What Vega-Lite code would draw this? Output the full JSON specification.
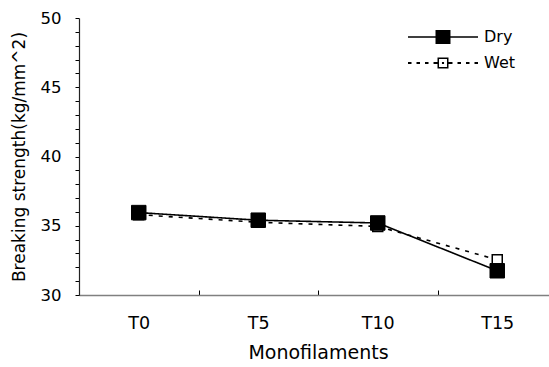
{
  "$schema": "https://vega.github.io/schema/vega-lite/v6.json",
  "width": 470,
  "height": 277,
  "autosize": {"type": "none"},
  "padding": {"left": 79, "top": 18, "right": 0, "bottom": 72},
  "background": "white",
  "config": {"view": {"stroke": null}, "font": "DejaVu Sans"},
  "data": {
    "values": [
      {"treatment": "T0", "series": "Dry", "strength": 35.95},
      {"treatment": "T5", "series": "Dry", "strength": 35.4},
      {"treatment": "T10", "series": "Dry", "strength": 35.2},
      {"treatment": "T15", "series": "Dry", "strength": 31.75},
      {"treatment": "T0", "series": "Wet", "strength": 35.8},
      {"treatment": "T5", "series": "Wet", "strength": 35.25},
      {"treatment": "T10", "series": "Wet", "strength": 34.95},
      {"treatment": "T15", "series": "Wet", "strength": 32.55}
    ]
  },
  "encoding": {
    "x": {
      "field": "treatment",
      "type": "nominal",
      "sort": ["T0", "T5", "T10", "T15"],
      "scale": {"type": "band", "range": [0, 478], "paddingInner": 0, "paddingOuter": 0},
      "title": "Monofilaments",
      "axis": {
        "tickBand": "extent",
        "tickSize": -5,
        "tickColor": "black",
        "tickWidth": 1,
        "domainColor": "#808080",
        "domainWidth": 1.5,
        "labelFontSize": 17.5,
        "labelFont": "DejaVu Sans",
        "labelColor": "black",
        "labelAngle": 0,
        "labelPadding": 24,
        "titleFontSize": 19,
        "titleFont": "DejaVu Sans",
        "titleFontWeight": "normal",
        "titleColor": "black",
        "titlePadding": 12,
        "grid": false
      }
    },
    "y": {
      "field": "strength",
      "type": "quantitative",
      "scale": {"domain": [30, 50], "nice": false, "zero": false},
      "title": "Breaking strength(kg/mm^2)",
      "axis": {
        "values": [30,31,32,33,34,35,36,37,38,39,40,41,42,43,44,45,46,47,48,49,50],
        "labelExpr": "datum.value % 5 === 0 ? datum.label : ''",
        "labelOverlap": false,
        "tickSize": 4,
        "tickColor": "black",
        "tickWidth": 1,
        "domainColor": "#222222",
        "domainWidth": 1.2,
        "labelFontSize": 16.5,
        "labelFont": "DejaVu Sans",
        "labelColor": "black",
        "labelPadding": 14,
        "titleFontSize": 17,
        "titleFont": "DejaVu Sans",
        "titleFontWeight": "normal",
        "titleColor": "black",
        "titlePadding": 12,
        "grid": false
      }
    }
  },
  "layer": [
    {
      "mark": {"type": "point", "filled": true, "fill": "black", "strokeWidth": 0, "size": 4900, "opacity": 0},
      "encoding": {
        "shape": {
          "field": "series",
          "type": "nominal",
          "scale": {
            "domain": ["Dry", "Wet"],
            "range": [
              "M-1,-0.023H1V0.023H-1ZM-0.214,-0.2H0.214V0.2H-0.214Z",
              "M-1,-0.028H-0.9V0.028H-1ZM-0.757,-0.028H-0.657V0.028H-0.757ZM-0.514,-0.028H-0.414V0.028H-0.514ZM-0.271,-0.028H-0.157V0.028H-0.271ZM-0.157,-0.157H0.157V0.157H-0.157ZM-0.114,-0.114V0.114H0.114V-0.114ZM-0.03,-0.028H0.03V0.028H-0.03ZM0.157,-0.028H0.271V0.028H0.157ZM0.414,-0.028H0.514V0.028H0.414ZM0.657,-0.028H0.757V0.028H0.657ZM0.9,-0.028H1V0.028H0.9Z"
            ]
          },
          "legend": {
            "orient": "none",
            "legendX": 329,
            "legendY": 6,
            "title": null,
            "padding": 0,
            "symbolSize": 4900,
            "clipHeight": 26,
            "rowPadding": 0,
            "symbolFillColor": "black",
            "symbolStrokeWidth": 0,
            "symbolOpacity": 1,
            "labelFontSize": 16,
            "labelFont": "DejaVu Sans",
            "labelColor": "black",
            "labelOffset": 6
          }
        }
      }
    },
    {
      "mark": {"type": "line", "color": "black", "strokeWidth": 1.6},
      "encoding": {
        "strokeDash": {
          "field": "series",
          "type": "nominal",
          "scale": {"domain": ["Dry", "Wet"], "range": [[1, 0], [4, 6]]},
          "legend": null
        }
      }
    },
    {
      "transform": [{"filter": "datum.series === 'Wet'"}],
      "mark": {"type": "point", "shape": "square", "filled": true, "fill": "white", "stroke": "black", "strokeWidth": 1.5, "size": 100, "opacity": 1}
    },
    {
      "transform": [{"filter": "datum.series === 'Dry'"}],
      "mark": {"type": "point", "shape": "square", "filled": true, "fill": "black", "stroke": "black", "strokeWidth": 1, "size": 210, "opacity": 1}
    }
  ]
}
